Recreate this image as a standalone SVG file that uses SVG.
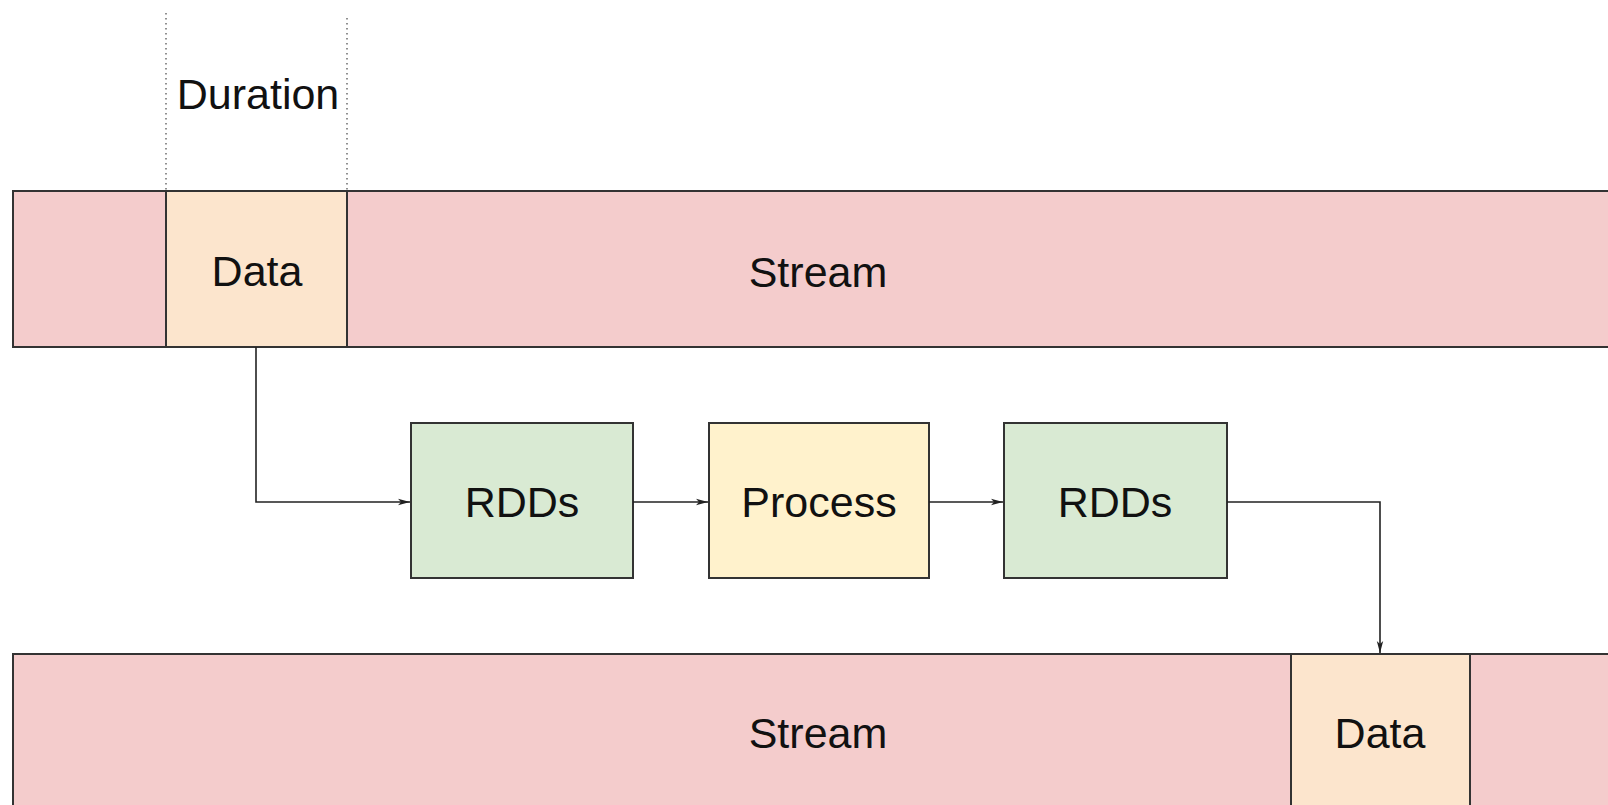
<svg xmlns="http://www.w3.org/2000/svg" width="1608" height="805" viewBox="0 0 1608 805">
<style>
.box{stroke:#333;stroke-width:2}
.stream{fill:#f4cccc}
.data{fill:#fce5cd}
.rdd{fill:#d9ead3}
.proc{fill:#fff2cc}
text{font-family:"Liberation Sans",Arial,sans-serif;font-size:43px;fill:#111;text-anchor:middle}
.conn{fill:none;stroke:#222;stroke-width:1.6}
.dot{stroke:#555;stroke-width:1.3;stroke-dasharray:1.5 3.5;fill:none}
</style>
<defs>
<marker id="arr" viewBox="0 0 12 8" refX="12" refY="4" markerWidth="12" markerHeight="8" markerUnits="userSpaceOnUse" orient="auto">
<path d="M0,0.8 L12,4 L0,7.2 L3,4 Z" fill="#222"/>
</marker>
</defs>
<g id="duration">
<line class="dot" x1="166" y1="13" x2="166" y2="191"/>
<line class="dot" x1="347" y1="18" x2="347" y2="191"/>
<text x="258" y="109">Duration</text>
</g>
<g id="stream-top">
<rect class="box stream" x="13" y="191" width="1620" height="156"/>
<text x="818" y="287">Stream</text>
</g>
<g id="data-top">
<rect class="box data" x="166" y="191" width="181" height="156"/>
<text x="257" y="286">Data</text>
</g>
<g id="stream-bottom">
<rect class="box stream" x="13" y="654" width="1620" height="170"/>
<text x="818" y="748">Stream</text>
</g>
<g id="data-bottom">
<rect class="box data" x="1291" y="654" width="179" height="170"/>
<text x="1380" y="748">Data</text>
</g>
<g id="rdds-1">
<rect class="box rdd" x="411" y="423" width="222" height="155"/>
<text x="522" y="517">RDDs</text>
</g>
<g id="process">
<rect class="box proc" x="709" y="423" width="220" height="155"/>
<text x="819" y="517">Process</text>
</g>
<g id="rdds-2">
<rect class="box rdd" x="1004" y="423" width="223" height="155"/>
<text x="1115" y="517">RDDs</text>
</g>
<g id="connectors">
<path class="conn" d="M256,347 V502 H410" marker-end="url(#arr)"/>
<path class="conn" d="M633,502 H708" marker-end="url(#arr)"/>
<path class="conn" d="M929,502 H1003" marker-end="url(#arr)"/>
<path class="conn" d="M1227,502 H1380 V653" marker-end="url(#arr)"/>
</g>
</svg>
